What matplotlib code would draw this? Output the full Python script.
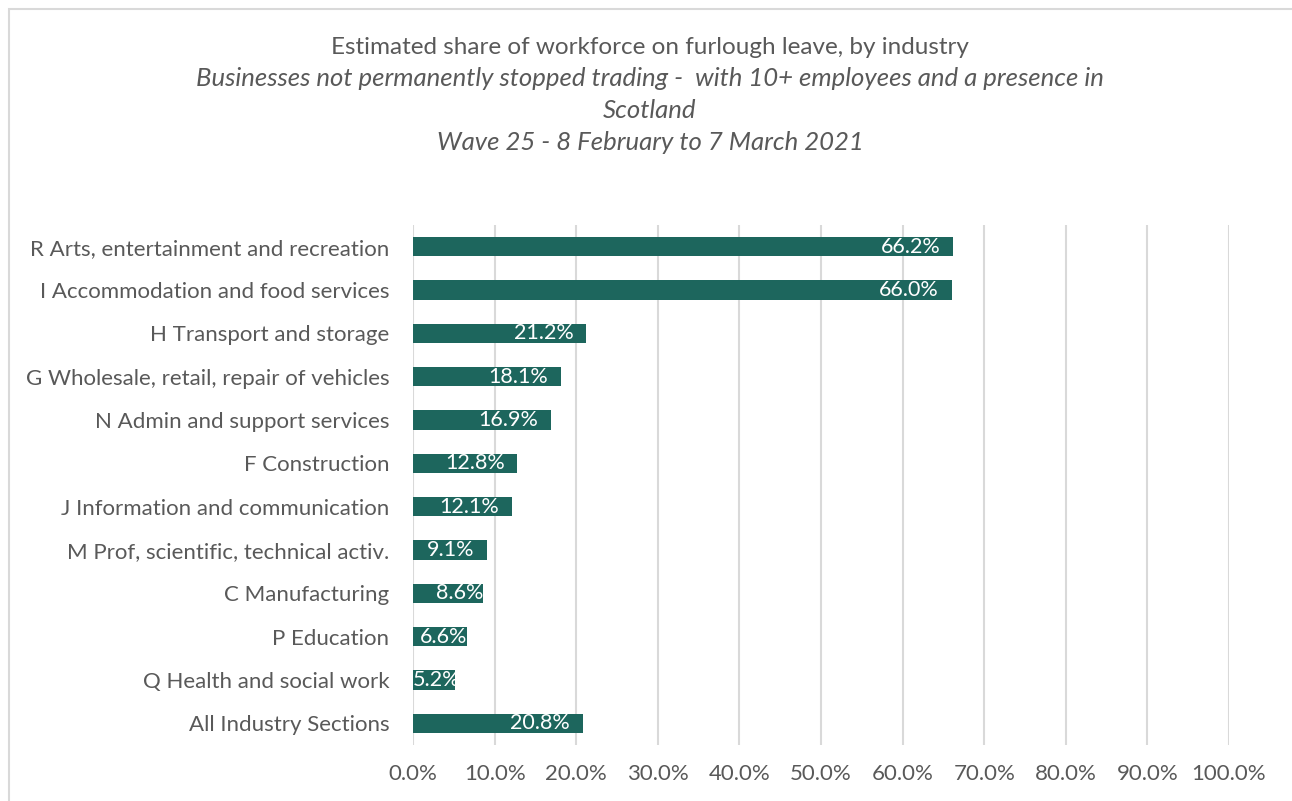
import matplotlib.pyplot as plt
from matplotlib.patches import Rectangle

categories = [
    "R Arts, entertainment and recreation",
    "I Accommodation and food services",
    "H Transport and storage",
    "G Wholesale, retail, repair of vehicles",
    "N Admin and support services",
    "F Construction",
    "J Information and communication",
    "M Prof, scientific, technical activ.",
    "C Manufacturing",
    "P Education",
    "Q Health and social work",
    "All Industry Sections",
]
values = [66.2, 66.0, 21.2, 18.1, 16.9, 12.8, 12.1, 9.1, 8.6, 6.6, 5.2, 20.8]
xticks = list(range(0, 101, 10))

TEXT = "#595959"
BAR = "#1d665d"
plt.rcParams['font.family'] = ['Lato', 'DejaVu Sans']

fig = plt.figure(figsize=(12.92, 8.01), dpi=100)
ax = fig.add_axes([413 / 1292, 1 - 745 / 801, (1229 - 413) / 1292, (745 - 225) / 801])

# chart area border (only top/left visible in the original crop)
fig.patches.append(Rectangle((9 / 1292, -0.1), 2, 1 - 9 / 801 + 0.1, transform=fig.transFigure,
                             fill=False, edgecolor="#d9d9d9", linewidth=1.5))

ys = list(range(len(categories)))
ax.barh(ys, values, height=0.44, color=BAR, zorder=3)
ax.set_ylim(len(categories) - 0.5, -0.5)
ax.set_xlim(0, 100)
ax.set_yticks(ys)
ax.set_yticklabels(categories, fontsize=16, color=TEXT)
ax.set_xticks(xticks)
ax.set_xticklabels([f"{x:.1f}%" for x in xticks], fontsize=16, color=TEXT)
ax.tick_params(length=0)
ax.tick_params(axis='y', pad=17)
ax.tick_params(axis='x', pad=14)
for s in ax.spines.values():
    s.set_visible(False)
ax.grid(axis='x', color="#d9d9d9", linewidth=1.5, zorder=0)

for y, v in zip(ys, values):
    lab = f"{v:.1f}%"
    if v >= 9:
        ax.annotate(lab, (v, y), xytext=(-9, 0), textcoords='offset points',
                    ha='right', va='center', color='white', fontsize=15.5, zorder=4)
    elif v >= 6:
        ax.annotate(lab, (v, y), ha='right', va='center', color='white', fontsize=15.5, zorder=4)
    else:
        ax.annotate(lab, (0, y), ha='left', va='center', color='white', fontsize=15.5, zorder=4)

fig.text(0.503, 1 - 47 / 801, "Estimated share of workforce on furlough leave, by industry",
         ha='center', va='center', fontsize=17.5, color=TEXT)
fig.text(0.503, 1 - 79 / 801, "Businesses not permanently stopped trading -  with 10+ employees and a presence in",
         ha='center', va='center', fontsize=18.5, color=TEXT, style='italic')
fig.text(0.503, 1 - 111 / 801, "Scotland", ha='center', va='center', fontsize=18.5, color=TEXT, style='italic')
fig.text(0.503, 1 - 143 / 801, "Wave 25 - 8 February to 7 March 2021",
         ha='center', va='center', fontsize=18.5, color=TEXT, style='italic')

fig.savefig("out.png", dpi=100)
